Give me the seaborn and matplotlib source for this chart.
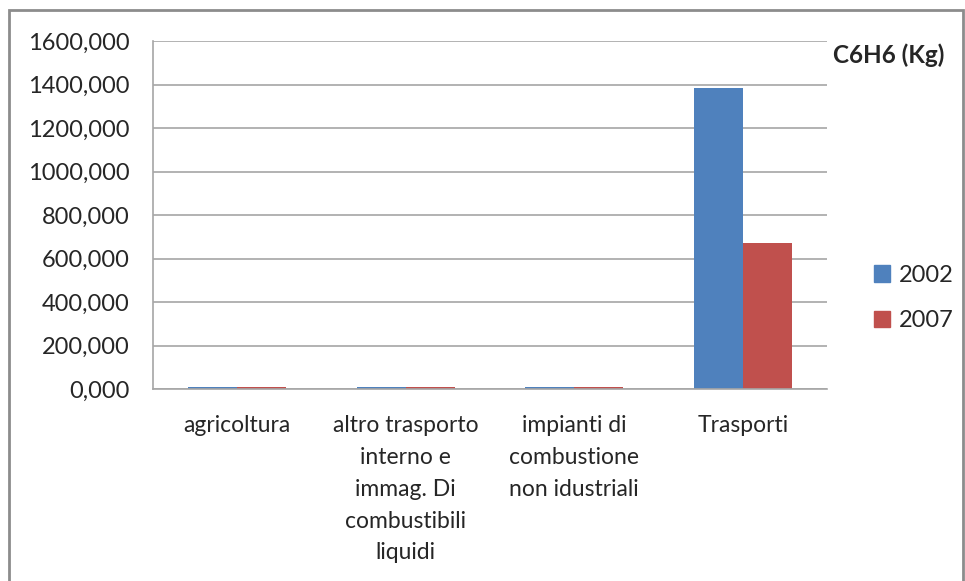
import pandas as pd
import matplotlib
matplotlib.use('Agg')
import matplotlib.pyplot as plt
import matplotlib.patches as mpatches
import seaborn as sns

# Data
categories = ['agricoltura',
              'altro trasporto\ninterno e\nimmag. Di\ncombustibili\nliquidi',
              'impianti di\ncombustione\nnon idustriali',
              'Trasporti']
years = ['2002', '2007']
values_2002 = [9, 9, 9, 1385]
values_2007 = [9, 9, 9, 670]
colors = ['#4F81BD', '#C0504D']

df = pd.DataFrame({
    'categoria': categories * 2,
    'anno': [years[0]] * 4 + [years[1]] * 4,
    'valore': values_2002 + values_2007,
})

sns.set_style('white')
plt.rcParams['font.family'] = ['Lato', 'DejaVu Sans']
fs = 16.5

fig = plt.figure(figsize=(9.65, 5.81), dpi=100)
ax = fig.add_axes([153 / 965, 1 - 389 / 581, (827 - 153) / 965, (389 - 41) / 581])

sns.barplot(data=df, x='categoria', y='valore', hue='anno', palette=colors,
            width=0.58, saturation=1, linewidth=0, ax=ax, legend=False)

ax.set_ylim(0, 1600)
ax.set_xlim(-0.5, 3.5)
ax.set_yticks(range(0, 1601, 200))
ax.set_yticklabels([f'{v},000' for v in range(0, 1601, 200)], fontsize=fs + 0.5)
ax.yaxis.grid(True, color='#a6a6a6', linewidth=1.2)
ax.set_axisbelow(True)

# category labels centred, ticks on boundaries
ax.set_xticks([0, 1, 2, 3])
ax.set_xticklabels(categories, fontsize=fs, linespacing=1.63, va='top')
ax.tick_params(axis='x', length=0, pad=19)
ax.set_xticks([-0.5, 0.5, 1.5, 2.5, 3.5], minor=True)
ax.tick_params(axis='x', which='minor', length=6, color='#a6a6a6', width=1.2, direction='out')
ax.tick_params(axis='y', length=6, color='#a6a6a6', width=1.2, direction='out', pad=11)

for s in ['top', 'right']:
    ax.spines[s].set_visible(False)
for s in ['left', 'bottom']:
    ax.spines[s].set_color('#a6a6a6')
    ax.spines[s].set_linewidth(1.2)

ax.set_xlabel('')
ax.set_ylabel('')

# legend on the right
handles = [mpatches.Patch(color=c, label=y) for c, y in zip(colors, years)]
fig.legend(handles=handles, loc='center left', bbox_to_anchor=(862 / 965, 1 - 298 / 581),
           frameon=False, fontsize=fs + 0.5, handlelength=0.7, handleheight=0.7,
           handletextpad=0.35, labelspacing=1.05, borderpad=0)

fig.text(833 / 965, 1 - 55 / 581, 'C6H6 (Kg)', fontsize=17.5, fontweight='bold', va='center')

# outer chart border
fig.patches.append(mpatches.Rectangle((9 / 965, -0.05), (963 - 9) / 965, 1.05 - 10 / 581,
                                      transform=fig.transFigure, fill=False,
                                      edgecolor='#8c8c8c', linewidth=2))

fig.savefig('out.png', dpi=100)
